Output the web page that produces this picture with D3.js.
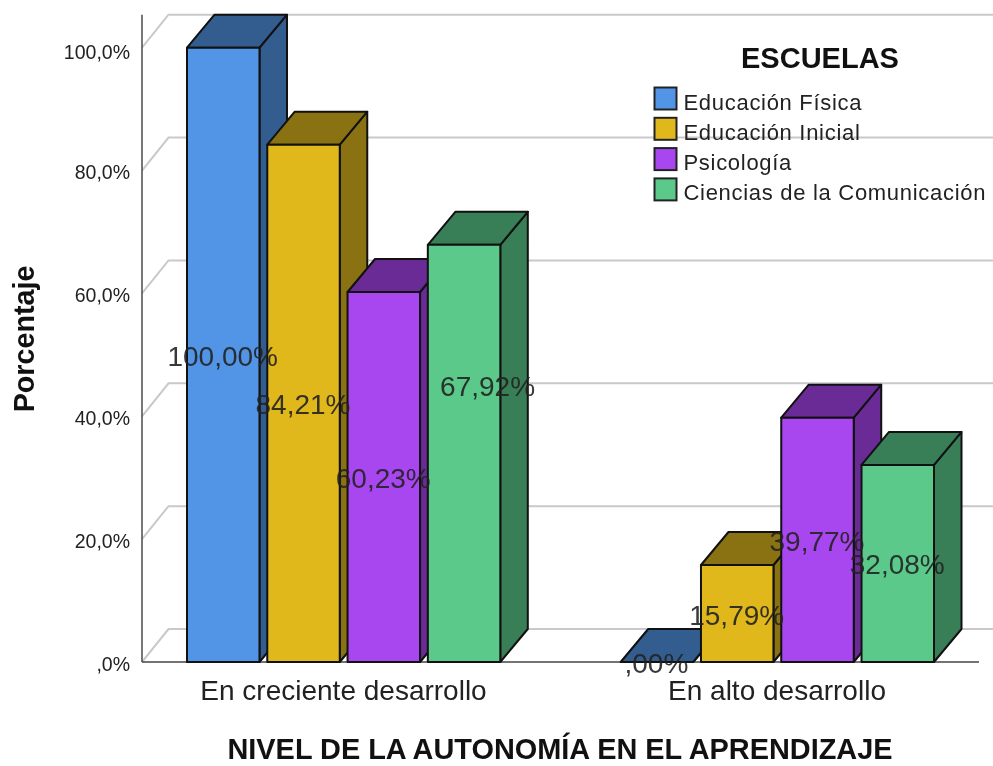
<!DOCTYPE html>
<html><head><meta charset="utf-8">
<script src="https://cdn.jsdelivr.net/npm/d3@7/dist/d3.min.js"></script>
<style>html,body{margin:0;padding:0;background:#fff}svg{display:block;filter:blur(0.45px)}text{font-family:"Liberation Sans",Arial,sans-serif;fill:#222}</style>
</head><body><svg id="c" width="993" height="766"></svg>
<script>
const categories = ["En creciente desarrollo", "En alto desarrollo"];
const seriesNames = ["Educación Física", "Educación Inicial", "Psicología", "Ciencias de la Comunicación"];
const valuesFisica = [100.00, 0.00];
const valuesInicial = [84.21, 15.79];
const valuesPsicologia = [60.23, 39.77];
const valuesComunicacion = [67.92, 32.08];
const tickValues = [0, 20, 40, 60, 80, 100];
const frontColors = ["#5294E6", "#E0B81C", "#A846F0", "#5BC98A"];
const darkColors = ["#335C8F", "#8A7212", "#6A2B96", "#387E56"];
const allValues = [valuesFisica, valuesInicial, valuesPsicologia, valuesComunicacion];

const depthX = 27.5, depthY = 33;
const svg = d3.select("#c");
const y = d3.scaleLinear().domain([0, 100]).range([662, 47.7]);
const x0 = d3.scaleBand().domain(categories).range([187, 934]).paddingInner(0.2776);
const x1 = d3.scaleBand().domain(seriesNames).range([0, x0.bandwidth()]).paddingInner(0.097);
const comma = v => d3.format(".1f")(v).replace(".", ",").replace(/^0,/, ",") + "%";
const comma2 = v => d3.format(".2f")(v).replace(".", ",").replace(/^0,/, ",") + "%";

const axisLeft = 142, axisRight = 979, pageRight = 993;
const grid = svg.append("g").attr("fill", "none").attr("stroke", "#c9c9c9").attr("stroke-width", 2);
grid.selectAll("path").data(tickValues).join("path")
  .attr("d", t => `M${axisLeft},${y(t)}L${axisLeft + depthX - 1},${y(t) - depthY}L${pageRight},${y(t) - depthY}`);
svg.append("line").attr("x1", axisLeft).attr("x2", axisLeft).attr("y1", y(100) - depthY).attr("y2", y(0)).attr("stroke", "#555").attr("stroke-width", 1.6);
svg.append("line").attr("x1", axisLeft).attr("x2", axisRight).attr("y1", y(0)).attr("y2", y(0)).attr("stroke", "#444").attr("stroke-width", 1.6);

const ax = svg.append("g").attr("transform", `translate(${axisLeft},2)`)
  .call(d3.axisLeft(y).tickValues(tickValues).tickSize(0).tickPadding(12).tickFormat(comma));
ax.select(".domain").remove();
ax.selectAll("text").style("font-size", "19.5px").style("font-family", '"Liberation Sans"').attr("fill", "#222");
ax.selectAll("text").filter(t => t === 100).attr("y", 2.5);

const flat = [];
categories.forEach((c, ci) => seriesNames.forEach((s, si) => flat.push({c, s, si, v: allValues[si][ci]})));
const bars = svg.append("g").attr("stroke", "#111").attr("stroke-width", 2).attr("stroke-linejoin", "round");
const bx = d => x0(d.c) + x1(d.s), bw = x1.bandwidth();
const g = bars.selectAll("g").data(flat).join("g");
g.append("path").attr("fill", d => darkColors[d.si])
  .attr("d", d => `M${bx(d) + bw},${y(d.v)}l${depthX},${-depthY}L${bx(d) + bw + depthX},${y(0) - depthY}L${bx(d) + bw},${y(0)}Z`);
g.append("path").attr("fill", d => darkColors[d.si])
  .attr("d", d => `M${bx(d)},${y(d.v)}l${depthX},${-depthY}h${bw}l${-depthX},${depthY}Z`);
g.append("rect").attr("fill", d => frontColors[d.si])
  .attr("x", bx).attr("y", d => y(d.v)).attr("width", bw).attr("height", d => y(0) - y(d.v));

// the reference has one hand-moved label: the 67,92% of the first group
const labelShift = d => (d.v === 67.92 ? [24, -68] : [0, 0]);
svg.append("g").selectAll("text").data(flat).join("text")
  .attr("x", d => bx(d) + bw / 2 - 0.5 + labelShift(d)[0]).attr("y", d => (y(0) + y(d.v)) / 2 + 11 + labelShift(d)[1])
  .attr("text-anchor", "middle").style("font-size", "28px").attr("fill-opacity", 0.9).text(d => comma2(d.v));

svg.append("g").selectAll("text").data(categories).join("text")
  .attr("x", c => c === categories[0] ? 343.5 : 777).attr("y", 700)
  .attr("text-anchor", "middle").style("font-size", "28px").text(c => c);

svg.append("text").attr("x", 560).attr("y", 759).attr("text-anchor", "middle")
  .style("font-size", "28.9px").style("font-weight", "bold").style("fill", "#111").text("NIVEL DE LA AUTONOMÍA EN EL APRENDIZAJE");
svg.append("text").attr("transform", "translate(34,339) rotate(-90)").attr("text-anchor", "middle")
  .style("font-size", "28.7px").style("font-weight", "bold").style("fill", "#111").text("Porcentaje");

svg.append("text").attr("x", 820).attr("y", 68).attr("text-anchor", "middle")
  .style("font-size", "29px").style("font-weight", "bold").style("fill", "#111").text("ESCUELAS");
const lg = svg.append("g").selectAll("g").data(seriesNames).join("g")
  .attr("transform", (d, i) => `translate(654.5,${87.5 + i * 30.3})`);
lg.append("rect").attr("width", 22).attr("height", 22).attr("fill", (d, i) => frontColors[i]).attr("stroke", "#222").attr("stroke-width", 2);
lg.append("text").attr("x", 29).attr("y", 22).style("font-size", "22px").attr("letter-spacing", "0.7").text(d => d);
</script></body></html>
